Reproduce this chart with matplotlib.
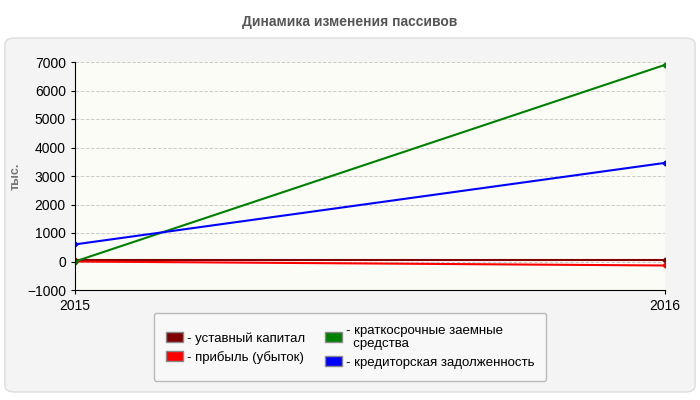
import matplotlib.pyplot as plt
from matplotlib.patches import FancyBboxPatch, Patch

years = ['2015', '2016']
ustav = [40, 40]
pribyl = [0, -140]
kratk = [0, 6900]
kredit = [600, 3460]

labels = ['- уставный капитал', '- прибыль (убыток)',
          '- краткосрочные заемные\n  средства', '- кредиторская задолженность']
colors = ['#800000', '#ff0000', '#008000', '#0000ff']

plt.rcParams['font.family'] = ['Liberation Sans', 'DejaVu Sans']
fig = plt.figure(figsize=(7, 4), dpi=100)
fig.patch.set_facecolor('white')
fig.patches.append(FancyBboxPatch((0.007, 0.02), 0.986, 0.885, boxstyle='round,pad=0,rounding_size=0.015',
                                  transform=fig.transFigure, facecolor='#f4f4f4', edgecolor='#dddddd', zorder=-1))
fig.text(0.5, 0.945, 'Динамика изменения пассивов', ha='center', va='center',
         fontsize=10, fontweight='bold', color='#555555')

ax = fig.add_axes([0.107, 0.275, 0.843, 0.57])
ax.set_facecolor('#fcfcf6')
x = [0, 1]
for vals, c in zip([ustav, pribyl, kratk, kredit], colors):
    ax.plot(x, vals, color=c, lw=1.5, marker='D', ms=2.5)

ax.set_xlim(0, 1)
ax.set_ylim(-1000, 7000)
ax.set_yticks(range(-1000, 7001, 1000))
ax.set_xticks(x)
ax.set_xticklabels(years)
ax.tick_params(labelsize=10, length=3)
ax.grid(axis='y', color='#cccccc', ls='--', lw=0.7)
for s in ['top', 'right']:
    ax.spines[s].set_visible(False)
ax.set_ylabel('тыс.', fontsize=9, fontweight='bold', color='#777777')

handles = [Patch(facecolor=c, edgecolor='#888888') for c in colors]
leg = fig.legend(handles, labels, ncol=2, loc='center', bbox_to_anchor=(0.5, 0.133),
                 fontsize=9.5, handlelength=1.3, handleheight=0.8, handletextpad=0.3,
                 columnspacing=1.5, labelspacing=0.45, borderpad=0.9,
                 frameon=True, fancybox=True)
leg.get_frame().set_edgecolor('#aaaaaa')
leg.get_frame().set_facecolor('#fafafa')

fig.savefig('out.png')
